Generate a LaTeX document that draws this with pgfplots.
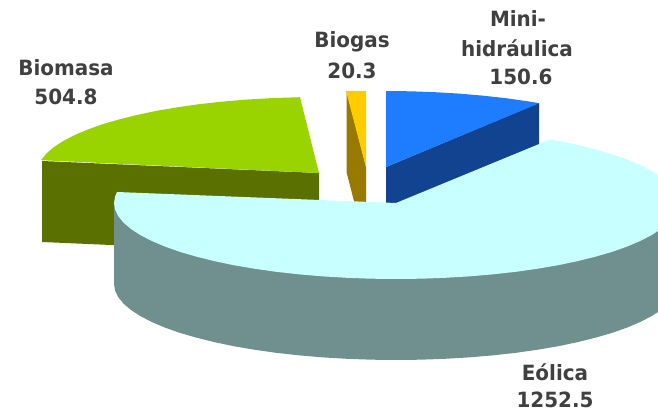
\documentclass[border=0pt]{standalone}
\usepackage{pgfplots}
\pgfplotsset{compat=1.18}
\usepackage{fontspec}
\setmainfont{DejaVu Sans}
\definecolor{eol}{HTML}{C8FFFF}
\definecolor{eold}{HTML}{708F8F}
\definecolor{bio}{HTML}{99D400}
\definecolor{biod}{HTML}{5A7000}
\definecolor{gas}{HTML}{FFCC00}
\definecolor{gasd}{HTML}{997A00}
\definecolor{hyd}{HTML}{1E7DFF}
\definecolor{hydd}{HTML}{124391}
\definecolor{txt}{HTML}{404040}
\tikzset{lab/.style={font=\fontsize{21}{24}\selectfont\bfseries,text=txt,inner sep=0pt}}
\newcommand{\lab}[1]{\scalebox{0.95}[1]{#1}}
\begin{document}
\begin{tikzpicture}
\path[use as bounding box] (0,0) rectangle (658pt,414pt);
\begin{axis}[at={(0,0)},anchor=south west,scale only axis,width=658pt,height=414pt,xmin=0,xmax=658,ymin=0,ymax=414,y dir=reverse,hide axis,clip=true,no markers]
% Biomasa
\addplot[fill=biod,draw=none] coordinates {(42,161)(319,173)(319,254)(42,242)} -- cycle;
\addplot[fill=bio,draw=none] coordinates {(319,173)(41,160.2)(46.6,153.3)(54,147)(63.4,140.9)(74.8,135)(88,129.4)(103,124.1)(119.6,119.3)(137.7,114.8)(157.2,110.7)(178,107.2)(199.8,104.1)(222.6,101.6)(246,99.6)(270,98.2)(300,97.2)} -- cycle;
% Biogas
\addplot[fill=gasd,draw=none] coordinates {(346.5,91)(366,167)(366,248)(346.5,172)} -- cycle;
\addplot[fill=gas,draw=none] coordinates {(346,91)(366,91)(366,167)} -- cycle;
% Mini-hidraulica
\addplot[fill=hydd,draw=none] coordinates {(386,167)(539,103)(539,184)(386,248)} -- cycle;
\addplot[fill=hyd,draw=none] coordinates {(386,167)(386,91)(410.6,91.3)(435,92.2)(459,93.6)(482.4,95.6)(505.2,98.1)(527,101.2)(539.3,103.2)} -- cycle;
% Eolica side
\addplot[fill=eold,draw=none] coordinates {(114,203)(114,284)(115.1,290.6)(118.3,297.2)(123.6,303.7)(131,310)(140.4,316.1)(151.8,322)(165,327.6)(180,332.9)(196.6,337.7)(214.7,342.2)(234.2,346.3)(255,349.8)(276.8,352.9)(299.6,355.4)(323,357.4)(347,358.8)(371.4,359.7)(396,360)(420.6,359.7)(445,358.8)(469,357.4)(492.4,355.4)(515.2,352.9)(537,349.8)(557.8,346.3)(577.3,342.2)(595.4,337.7)(612,332.9)(627,327.6)(640.2,322)(651.6,316.1)(661,310)(668.4,303.7)(673.7,297.2)(676.9,290.6)(678,284)(678,203)} -- cycle;
% Eolica top
\addplot[fill=eol,draw=none] coordinates {(396,203)(549.3,139.8)(557.8,140.7)(577.3,144.8)(595.4,149.3)(612,154.1)(627,159.4)(640.2,165)(651.6,170.9)(661,177)(668.4,183.3)(673.7,189.8)(676.9,196.4)(678,203)(676.9,209.6)(673.7,216.2)(668.4,222.7)(661,229)(651.6,235.1)(640.2,241)(627,246.6)(612,251.9)(595.4,256.7)(577.3,261.2)(557.8,265.3)(537,268.8)(515.2,271.9)(492.4,274.4)(469,276.4)(445,277.8)(420.6,278.7)(396,279)(371.4,278.7)(347,277.8)(323,276.4)(299.6,274.4)(276.8,271.9)(255,268.8)(234.2,265.3)(214.7,261.2)(196.6,256.7)(180,251.9)(165,246.6)(151.8,241)(140.4,235.1)(131,229)(123.6,222.7)(118.3,216.2)(115.1,209.6)(114,203)(115.1,196.4)(117,192)} -- cycle;
% Labels
\node[lab] at (axis cs:66,68) {\lab{Biomasa}};
\node[lab] at (axis cs:66,97) {\lab{504.8}};
\node[lab] at (axis cs:352,42) {\lab{Biogas}};
\node[lab] at (axis cs:352,71) {\lab{20.3}};
\node[lab] at (axis cs:518,19) {\lab{Mini-}};
\node[lab] at (axis cs:517,48) {\lab{hidráulica}};
\node[lab] at (axis cs:521,77) {\lab{150.6}};
\node[lab] at (axis cs:555,372) {\lab{Eólica}};
\node[lab] at (axis cs:555,400) {\lab{1252.5}};
\end{axis}
\end{tikzpicture}
\end{document}
